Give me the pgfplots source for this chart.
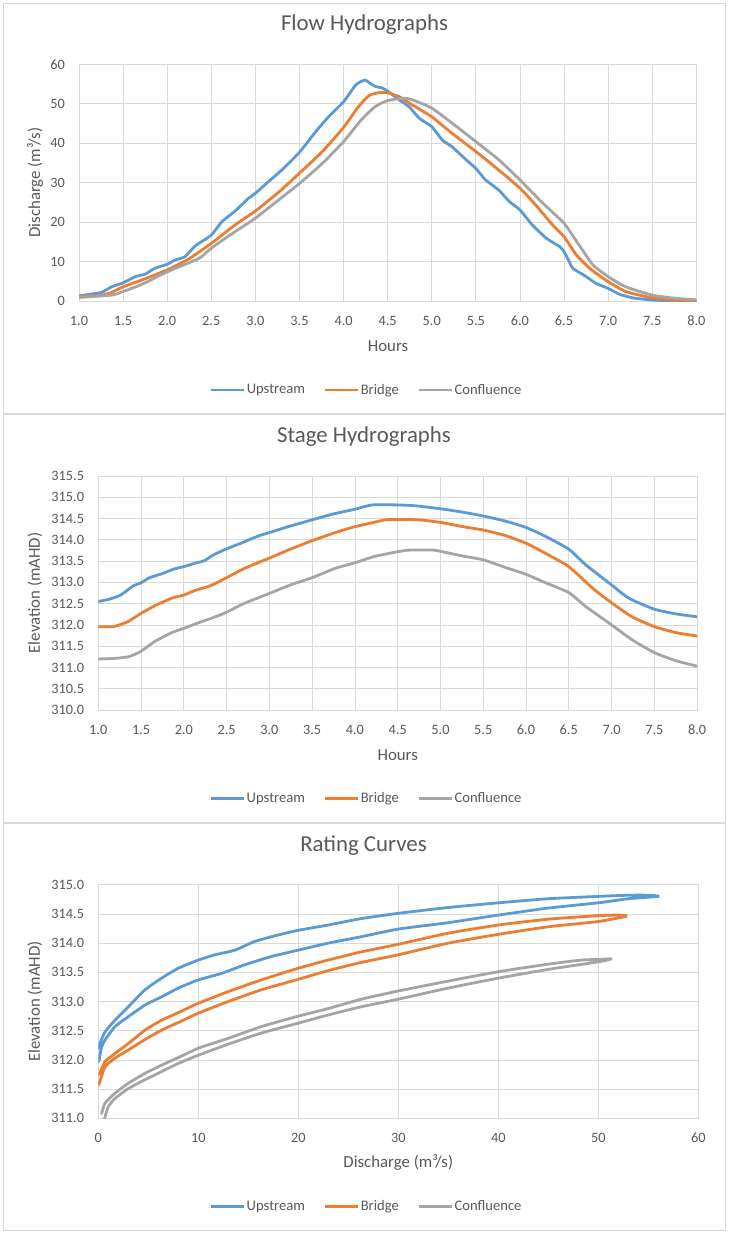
\documentclass[border=0pt]{standalone}
\usepackage{fontspec}
\setmainfont{Carlito}
\usepackage{pgfplots}
\pgfplotsset{compat=1.18}
\definecolor{cup}{HTML}{5B9BD5}
\definecolor{cbr}{HTML}{ED7D31}
\definecolor{cco}{HTML}{A5A5A5}
\definecolor{cgrid}{HTML}{D9D9D9}
\definecolor{ctxt}{HTML}{595959}

\pgfplotsset{
  rc/.style={
    scale only axis,
    axis line style={draw=cgrid, line width=0.8pt},
    grid=major,
    major grid style={draw=cgrid, line width=0.8pt},
    major tick length=0pt,
    tick style={draw=none},
    scaled ticks=false,
    /pgf/number format/assume math mode=true,
    tick label style={font=\fontsize{14.3}{16}\selectfont, text=ctxt},
    xticklabel style={anchor=center, inner sep=0pt, yshift=-19.5pt},
    yticklabel style={anchor=east, inner sep=0pt, xshift=-14pt},
    label style={font=\fontsize{16.8}{19}\selectfont, text=ctxt},
    title style={font=\fontsize{22.8}{26}\selectfont, text=ctxt, anchor=center, yshift=0pt},
    legend columns=3,
    legend cell align=left,
    legend style={draw=none, fill=none, font=\fontsize{14.6}{17}\selectfont, text=ctxt, anchor=center,
      /tikz/every even column/.append style={column sep=17pt}, nodes={inner sep=1.5pt}},
    legend image code/.code={\draw[##1, line width=2.8pt, line cap=butt] (0pt,0pt) -- (33pt,0pt);},
    every axis plot/.append style={line width=2.8pt, line join=round, line cap=round, smooth, tension=0.35},
  },
  hrx/.style={
    xmin=1, xmax=8,
    xtick={1,1.5,2,2.5,3,3.5,4,4.5,5,5.5,6,6.5,7,7.5,8},
    xticklabel style={/pgf/number format/.cd, fixed, fixed zerofill, precision=1},
  },
}

\begin{document}
\begin{tikzpicture}[x=1pt,y=1pt]
\path[use as bounding box, fill=white] (0,0) rectangle (729,-1237);
\draw[cgrid, line width=1.2pt] (3.7,-3.5) rectangle (725.5,-413.5);
\draw[cgrid, line width=1.2pt] (3.7,-414.7) rectangle (725.5,-822.5);
\draw[cgrid, line width=1.2pt] (3.7,-823.7) rectangle (725.5,-1230.5);

% ---------------- Flow Hydrographs
\begin{axis}[rc, hrx,
  at={(79pt,-301pt)}, anchor=south west, width=617.3pt, height=236.7pt,
  ymin=0, ymax=60, ytick={0,10,20,30,40,50,60},
  title={Flow Hydrographs}, title style={at={(0.4625,1.1407)}},
  xlabel={Hours}, xlabel style={at={(0.5006,-0.190)}, anchor=center},
  ylabel={Discharge (m³/s)}, ylabel style={at={(-0.0713,0.5)}, anchor=center},
  legend style={at={(0.4653,-0.376)}},
]
\addplot[cup] coordinates {(1.00,1.3) (1.18,1.9) (1.26,2.2) (1.37,3.6) (1.50,4.6) (1.64,6.2) (1.75,6.8) (1.86,8.3) (2.00,9.3) (2.09,10.4) (2.20,11.2) (2.32,14.0) (2.50,16.7) (2.62,20.1) (2.77,22.8) (2.92,26.0) (3.00,27.3) (3.15,30.3) (3.30,33.2) (3.50,37.7) (3.68,42.8) (3.83,46.7) (4.00,50.5) (4.14,54.8) (4.24,56.0) (4.30,55.2) (4.36,54.4) (4.44,54.0) (4.50,53.2) (4.56,52.2) (4.63,51.0) (4.74,49.3) (4.86,46.3) (5.00,44.2) (5.12,40.8) (5.23,39.1) (5.39,35.8) (5.50,33.6) (5.61,30.7) (5.76,28.1) (5.88,25.2) (6.00,23.1) (6.14,19.3) (6.30,15.9) (6.45,13.8) (6.50,12.5) (6.55,10.4) (6.60,8.3) (6.75,6.2) (6.86,4.5) (7.00,3.2) (7.13,1.7) (7.28,0.8) (7.50,0.25) (7.75,0.05) (8.00,0.0)};
\addlegendentry{Upstream}
\addplot[cbr] coordinates {(1.00,1.1) (1.26,1.5) (1.37,2.2) (1.50,3.6) (1.71,5.3) (2.00,7.9) (2.24,10.6) (2.50,14.6) (2.77,19.3) (3.00,22.8) (3.27,27.7) (3.50,32.4) (3.76,37.9) (4.00,44.0) (4.17,49.3) (4.29,52.1) (4.40,52.8) (4.50,52.8) (4.63,51.8) (4.78,49.7) (5.00,46.7) (5.23,42.5) (5.50,37.9) (5.76,33.2) (6.00,28.6) (6.18,24.3) (6.37,19.3) (6.50,16.3) (6.64,11.7) (6.79,8.3) (7.00,4.9) (7.20,2.4) (7.50,0.8) (7.76,0.25) (8.00,0.1)};
\addlegendentry{Bridge}
\addplot[cco] coordinates {(1.00,0.9) (1.37,1.5) (1.50,2.4) (1.71,4.2) (2.00,7.4) (2.36,10.8) (2.50,13.4) (2.77,17.6) (3.00,21.0) (3.50,29.8) (3.76,34.9) (4.00,40.4) (4.20,45.9) (4.36,49.3) (4.50,50.8) (4.67,51.4) (4.78,51.0) (5.00,48.9) (5.23,45.1) (5.50,40.4) (5.76,35.8) (6.00,30.7) (6.26,24.8) (6.50,19.7) (6.67,14.2) (6.83,9.1) (7.00,6.2) (7.20,3.6) (7.50,1.5) (7.76,0.7) (8.00,0.3)};
\addlegendentry{Confluence}
\end{axis}

% ---------------- Stage Hydrographs
\begin{axis}[rc, hrx,
  at={(98.3pt,-710pt)}, anchor=south west, width=598.8pt, height=234pt,
  ymin=310, ymax=315.5, ytick={310,310.5,311,311.5,312,312.5,313,313.5,314,314.5,315,315.5},
  yticklabel style={/pgf/number format/.cd, fixed, fixed zerofill, precision=1},
  title={Stage Hydrographs}, title style={at={(0.4437,1.144)}},
  xlabel={Hours}, xlabel style={at={(0.5,-0.1923)}, anchor=center},
  ylabel={Elevation (mAHD)}, ylabel style={at={(-0.1059,0.5)}, anchor=center},
  legend style={at={(0.4474,-0.377)}},
]
\addplot[cup] coordinates {(1.00,312.55) (1.12,312.60) (1.26,312.70) (1.41,312.92) (1.49,312.98) (1.60,313.11) (1.74,313.20) (1.88,313.31) (2.00,313.37) (2.13,313.45) (2.24,313.51) (2.34,313.64) (2.49,313.78) (2.68,313.93) (2.87,314.09) (3.00,314.17) (3.22,314.31) (3.50,314.47) (3.73,314.60) (4.00,314.72) (4.20,314.82) (4.50,314.82) (4.71,314.80) (5.00,314.73) (5.26,314.65) (5.50,314.56) (5.76,314.44) (6.00,314.29) (6.23,314.08) (6.50,313.78) (6.70,313.41) (7.00,312.94) (7.20,312.63) (7.50,312.37) (7.75,312.26) (8.00,312.19)};
\addlegendentry{Upstream}
\addplot[cbr] coordinates {(1.00,311.96) (1.18,311.96) (1.35,312.08) (1.49,312.26) (1.66,312.45) (1.86,312.63) (2.00,312.70) (2.13,312.81) (2.31,312.92) (2.49,313.10) (2.71,313.33) (3.00,313.57) (3.22,313.76) (3.50,313.98) (3.77,314.17) (4.00,314.31) (4.20,314.40) (4.35,314.47) (4.50,314.48) (4.75,314.47) (5.00,314.41) (5.26,314.31) (5.50,314.23) (5.76,314.10) (6.00,313.92) (6.23,313.68) (6.50,313.37) (6.78,312.86) (7.00,312.52) (7.24,312.19) (7.50,311.96) (7.75,311.82) (8.00,311.74)};
\addlegendentry{Bridge}
\addplot[cco] coordinates {(1.00,311.20) (1.16,311.21) (1.35,311.25) (1.49,311.37) (1.66,311.61) (1.86,311.82) (2.00,311.92) (2.17,312.05) (2.34,312.17) (2.49,312.29) (2.71,312.51) (3.00,312.74) (3.26,312.95) (3.50,313.11) (3.77,313.33) (4.00,313.46) (4.23,313.61) (4.50,313.72) (4.64,313.76) (4.91,313.76) (5.00,313.73) (5.26,313.62) (5.50,313.53) (5.76,313.35) (6.00,313.19) (6.23,312.99) (6.50,312.76) (6.70,312.43) (7.00,312.00) (7.24,311.65) (7.50,311.35) (7.75,311.16) (8.00,311.03)};
\addlegendentry{Confluence}
\end{axis}

% ---------------- Rating Curves
\begin{axis}[rc,
  at={(98.3pt,-1118.3pt)}, anchor=south west, width=600pt, height=233.6pt,
  xmin=0, xmax=60, xtick={0,10,20,30,40,50,60},
  ymin=311, ymax=315, ytick={311,311.5,312,312.5,313,313.5,314,314.5,315},
  yticklabel style={/pgf/number format/.cd, fixed, fixed zerofill, precision=1},
  title={Rating Curves}, title style={at={(0.442,1.1413)}},
  xlabel={Discharge (m³/s)}, xlabel style={at={(0.5,-0.190)}, anchor=center},
  ylabel={Elevation (mAHD)}, ylabel style={at={(-0.1057,0.5)}, anchor=center},
  legend style={at={(0.4465,-0.378)}},
]
\addplot[cup] coordinates {(0.05,311.97) (0.3,312.2) (0.67,312.34) (1.67,312.57) (3,312.74) (4.67,312.94) (6.33,313.08) (8,313.23) (10,313.37) (12.3,313.48) (14.67,313.63) (17.3,313.77) (20,313.88) (23,314.0) (26.3,314.11) (30,314.24) (35,314.35) (40,314.48) (45,314.60) (50,314.69) (53,314.76) (56,314.80) (55,314.82) (53,314.82) (50,314.80) (45,314.76) (40,314.69) (35,314.61) (30,314.51) (26.3,314.42) (23,314.31) (20,314.22) (18,314.14) (15.67,314.03) (13.67,313.88) (11.67,313.80) (10,313.71) (8,313.57) (6.33,313.40) (4.67,313.20) (3,312.91) (1.67,312.68) (0.67,312.48) (0.2,312.3) (0.05,312.2)};
\addlegendentry{Upstream}
\addplot[cbr] coordinates {(0.05,311.57) (0.67,311.88) (1.67,312.03) (3,312.17) (4.67,312.35) (6.33,312.51) (8,312.64) (10,312.80) (13,313.0) (16.3,313.20) (20,313.38) (23,313.53) (26.3,313.67) (30,313.80) (35,314.0) (40,314.15) (45,314.28) (50,314.37) (52.8,314.46) (52,314.48) (50,314.47) (45,314.41) (40,314.31) (35,314.17) (30,313.98) (26.3,313.85) (23,313.71) (20,313.57) (16.3,313.37) (13,313.17) (10,312.97) (8,312.81) (6.33,312.68) (4.67,312.51) (3,312.28) (1.67,312.11) (0.67,311.97) (0.1,311.75)};
\addlegendentry{Bridge}
\addplot[cco] coordinates {(0.6,310.98) (1,311.2) (1.67,311.34) (3,311.51) (4.67,311.66) (6.33,311.80) (8,311.94) (10,312.08) (13,312.27) (16.3,312.46) (20,312.63) (23,312.77) (26.3,312.91) (30,313.04) (35,313.23) (40,313.40) (45,313.55) (50,313.68) (51.3,313.73) (50,313.72) (48.3,313.71) (45,313.64) (40,313.51) (35,313.35) (30,313.18) (26.3,313.04) (23,312.88) (20,312.75) (16.3,312.57) (13,312.37) (10,312.20) (8,312.04) (6.33,311.91) (4.67,311.77) (3,311.60) (1.67,311.43) (0.67,311.26) (0.33,311.08)};
\addlegendentry{Confluence}
\end{axis}
\end{tikzpicture}
\end{document}
